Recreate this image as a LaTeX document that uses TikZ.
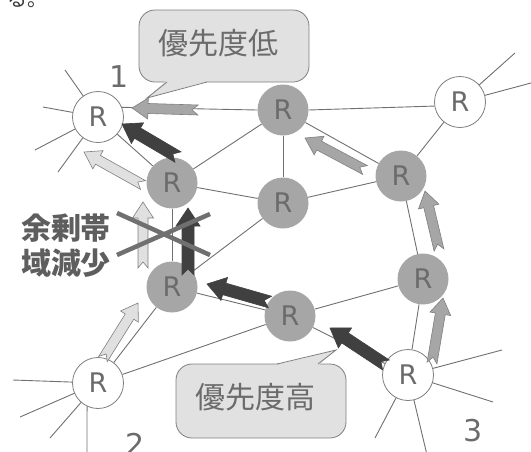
\documentclass[tikz,border=0pt]{standalone}
\usepackage{fontspec}
\setmainfont{DejaVu Sans}
\newfontfamily\cjk{Noto Sans CJK JP}
\usetikzlibrary{calc}

\definecolor{linegray}{HTML}{707070}
\definecolor{nodegray}{HTML}{A6A6A6}
\definecolor{textgray}{HTML}{6B6B6B}
\definecolor{lightfill}{HTML}{E0E0E0}
\definecolor{midfill}{HTML}{A6A6A6}
\definecolor{darkfill}{HTML}{404040}
\definecolor{boxfill}{HTML}{E1E1E1}
\definecolor{boxline}{HTML}{7F7F7F}
\definecolor{labelgray}{HTML}{5E5E5E}

% block arrow with a notched tail, drawn from one named point to another
\tikzset{
  flow w/.store in=\flw, flow head/.store in=\flH,
  flow len/.store in=\flh, flow notch/.store in=\fln,
  flow w=5, flow head=10.5, flow len=16, flow notch=6
}
\newcommand\flowarrow[3]{%
  \filldraw[#1] let \p1=(#2), \p2=(#3),
      \n1={atan2((\y2)-(\y1),(\x2)-(\x1))} in
    ($(\p1)+(\n1+90:\flw pt)$)
    -- ($(\p2)+(\n1+180:\flh pt)+(\n1+90:\flw pt)$)
    -- ($(\p2)+(\n1+180:\flh pt)+(\n1+90:\flH pt)$)
    -- (\p2)
    -- ($(\p2)+(\n1+180:\flh pt)+(\n1-90:\flH pt)$)
    -- ($(\p2)+(\n1+180:\flh pt)+(\n1-90:\flw pt)$)
    -- ($(\p1)+(\n1-90:\flw pt)$)
    -- ($(\p1)+(\n1:\fln pt)$)
    -- cycle;}

\begin{document}
\begin{tikzpicture}[x=1pt,y=-1pt,
  router/.style={circle, minimum size=51pt, inner sep=0pt,
    font=\fontsize{27}{27}\selectfont, text=textgray},
  edge router/.style={router, fill=white, draw=boxline, line width=0.8pt},
  core router/.style={router, fill=nodegray},
  link/.style={draw=linegray, line width=0.9pt},
  lightflow/.style={fill=lightfill, draw=boxline, line width=0.6pt},
  midflow/.style={fill=midfill, draw=boxline, line width=0.6pt},
  darkflow/.style={fill=darkfill, draw=darkfill, line width=0.6pt,
    flow w=6, flow head=12, flow len=18, flow notch=6},
  callout/.style={fill=boxfill, draw=boxline, line width=0.8pt},
  calltext/.style={font=\cjk\fontsize{30}{30}\selectfont, text=textgray},
  numlabel/.style={font=\fontsize{30}{30}\selectfont, text=textgray},
  cross/.style={draw=linegray, line width=4.5pt}
]
\useasboundingbox (0,0) rectangle (531,451);

% text fragment running off the top edge
\node[anchor=base west, inner sep=0pt, font=\cjk\fontsize{20}{20}\selectfont,
  text=black!80] (frag) at (7,6) {る。};

% router positions
\coordinate (pR1) at (98,117);
\coordinate (pRtr) at (460,102);
\coordinate (pR2) at (98,383);
\coordinate (pR3) at (408,375);
\coordinate (pGtop) at (283,110);
\coordinate (pGlm) at (172,183);
\coordinate (pGc) at (283,203);
\coordinate (pGru) at (401,176);
\coordinate (pGll) at (172,287);
\coordinate (pGlo) at (290,316);
\coordinate (pGrl) at (423,279);

% outer links of the edge routers
\coordinate (o1a) at (65,70);  \coordinate (o1b) at (43,107);
\coordinate (o1c) at (35,150); \coordinate (o1d) at (58,172);
\coordinate (otra) at (515,53); \coordinate (otrb) at (531,83);
\coordinate (o2a) at (13,380); \coordinate (o2b) at (20,417);
\coordinate (o2c) at (50,438); \coordinate (o2d) at (87,455);
\coordinate (o3a) at (502,350); \coordinate (o3b) at (493,402);
\coordinate (o3c) at (375,438); \coordinate (o3d) at (427,455);

\foreach \c in {o1a,o1b,o1c,o1d} \draw[link] (pR1) -- (\c);
\foreach \c in {otra,otrb} \draw[link] (pRtr) -- (\c);
\foreach \c in {o2a,o2b,o2c} \draw[link] (pR2) -- (\c);
\foreach \c in {o3a,o3b,o3c,o3d} \draw[link] (pR3) -- (\c);

% routers
\node[edge router] (R1) at (pR1) {R};
\node[edge router] (Rtr) at (pRtr) {R};
\node[edge router] (R2) at (pR2) {R};
\node[edge router] (R3) at (pR3) {R};
\node[core router] (Gtop) at (pGtop) {R};
\node[core router] (Glm) at (pGlm) {R};
\node[core router] (Gc) at (pGc) {R};
\node[core router] (Gru) at (pGru) {R};
\node[core router] (Gll) at (pGll) {R};
\node[core router] (Glo) at (pGlo) {R};
\node[core router] (Grl) at (pGrl) {R};

\draw[link] (R2.245) -- (o2d);

% links between routers
\draw[link] (R1.22) -- (Gtop.west);
\draw[link] (Gtop.east) -- (Rtr.189);
\draw[link] (R1) -- (Glm);
\draw[link] (Gtop) -- (Glm);
\draw[link] (Gtop) -- (Gc);
\draw[link] (Gtop) -- (Gru);
\draw[link] (Glm) -- (Gc);
\draw[link] (Glm) -- (Gll);
\draw[link] (Gc) -- (Gll);
\draw[link] (Gc) -- (Gru);
\draw[link] (Rtr) -- (Gru);
\draw[link] (Gru) -- (Grl);
\draw[link] (Gll) -- (R2);
\draw[link] (Gll) -- (Glo);
\draw[link] (R2) -- (Glo);
\draw[link] (Glo) -- (Grl);
\draw[link] (Grl) -- (R3);
\draw[link] (Glo) -- (R3);

% flow arrows: tail and tip points
\coordinate (f1s) at (198,110); \coordinate (f1e) at (132,108);
\coordinate (f2s) at (178,157); \coordinate (f2e) at (122,124);
\coordinate (f3s) at (143,185); \coordinate (f3e) at (84,152);
\coordinate (f4s) at (143,268); \coordinate (f4e) at (143,202);
\coordinate (f5s) at (188,275); \coordinate (f5e) at (188,208);
\coordinate (f6s) at (103,359); \coordinate (f6e) at (138,303);
\coordinate (f7s) at (270,302); \coordinate (f7e) at (207,284);
\coordinate (f8s) at (386,365); \coordinate (f8e) at (330,328);
\coordinate (f9s) at (432,363); \coordinate (f9e) at (443,298);
\coordinate (f10s) at (439,250); \coordinate (f10e) at (425,191);
\coordinate (f11s) at (365,170); \coordinate (f11e) at (305,138);

\flowarrow{midflow}{f1s}{f1e}
\flowarrow{darkflow}{f2s}{f2e}
\flowarrow{lightflow}{f3s}{f3e}
\flowarrow{lightflow}{f4s}{f4e}
\flowarrow{darkflow}{f5s}{f5e}
\flowarrow{lightflow}{f6s}{f6e}
\flowarrow{darkflow}{f7s}{f7e}
\flowarrow{darkflow}{f8s}{f8e}
\flowarrow{midflow}{f9s}{f9e}
\flowarrow{midflow}{f10s}{f10e}
\flowarrow{midflow}{f11s}{f11e}

% crossed-out bandwidth
\draw[cross] (117,213) -- (210,255);
\draw[cross] (117,255) -- (210,214);
\node[font=\cjk\bfseries\fontsize{30}{35}\selectfont, text=labelgray,
  align=left, inner sep=0pt] (spare) at (66,245.5) {余剰帯\\域減少};

% callouts
\filldraw[callout, rounded corners=16pt] (139,10) rectangle (309,82);
\fill[boxfill] (166,81) -- (147,98) -- (208,81) -- cycle;
\draw[callout, fill=none] (167,82) -- (147,98) -- (207,82);
\node[calltext] (low) at (218,43) {優先度低};

\filldraw[callout, rounded corners=16pt] (176,364) rectangle (346,438);
\fill[boxfill] (276,365) -- (336,350) -- (319,365) -- cycle;
\draw[callout, fill=none] (277,364) -- (336,350) -- (318,364);
\node[calltext] (high) at (255,397) {優先度高};

% router numbers
\node[numlabel] (n1) at (119,77) {1};
\node[numlabel, anchor=base] (n2) at (135,455) {2};
\node[numlabel] (n3) at (473,431) {3};
\end{tikzpicture}
\end{document}
